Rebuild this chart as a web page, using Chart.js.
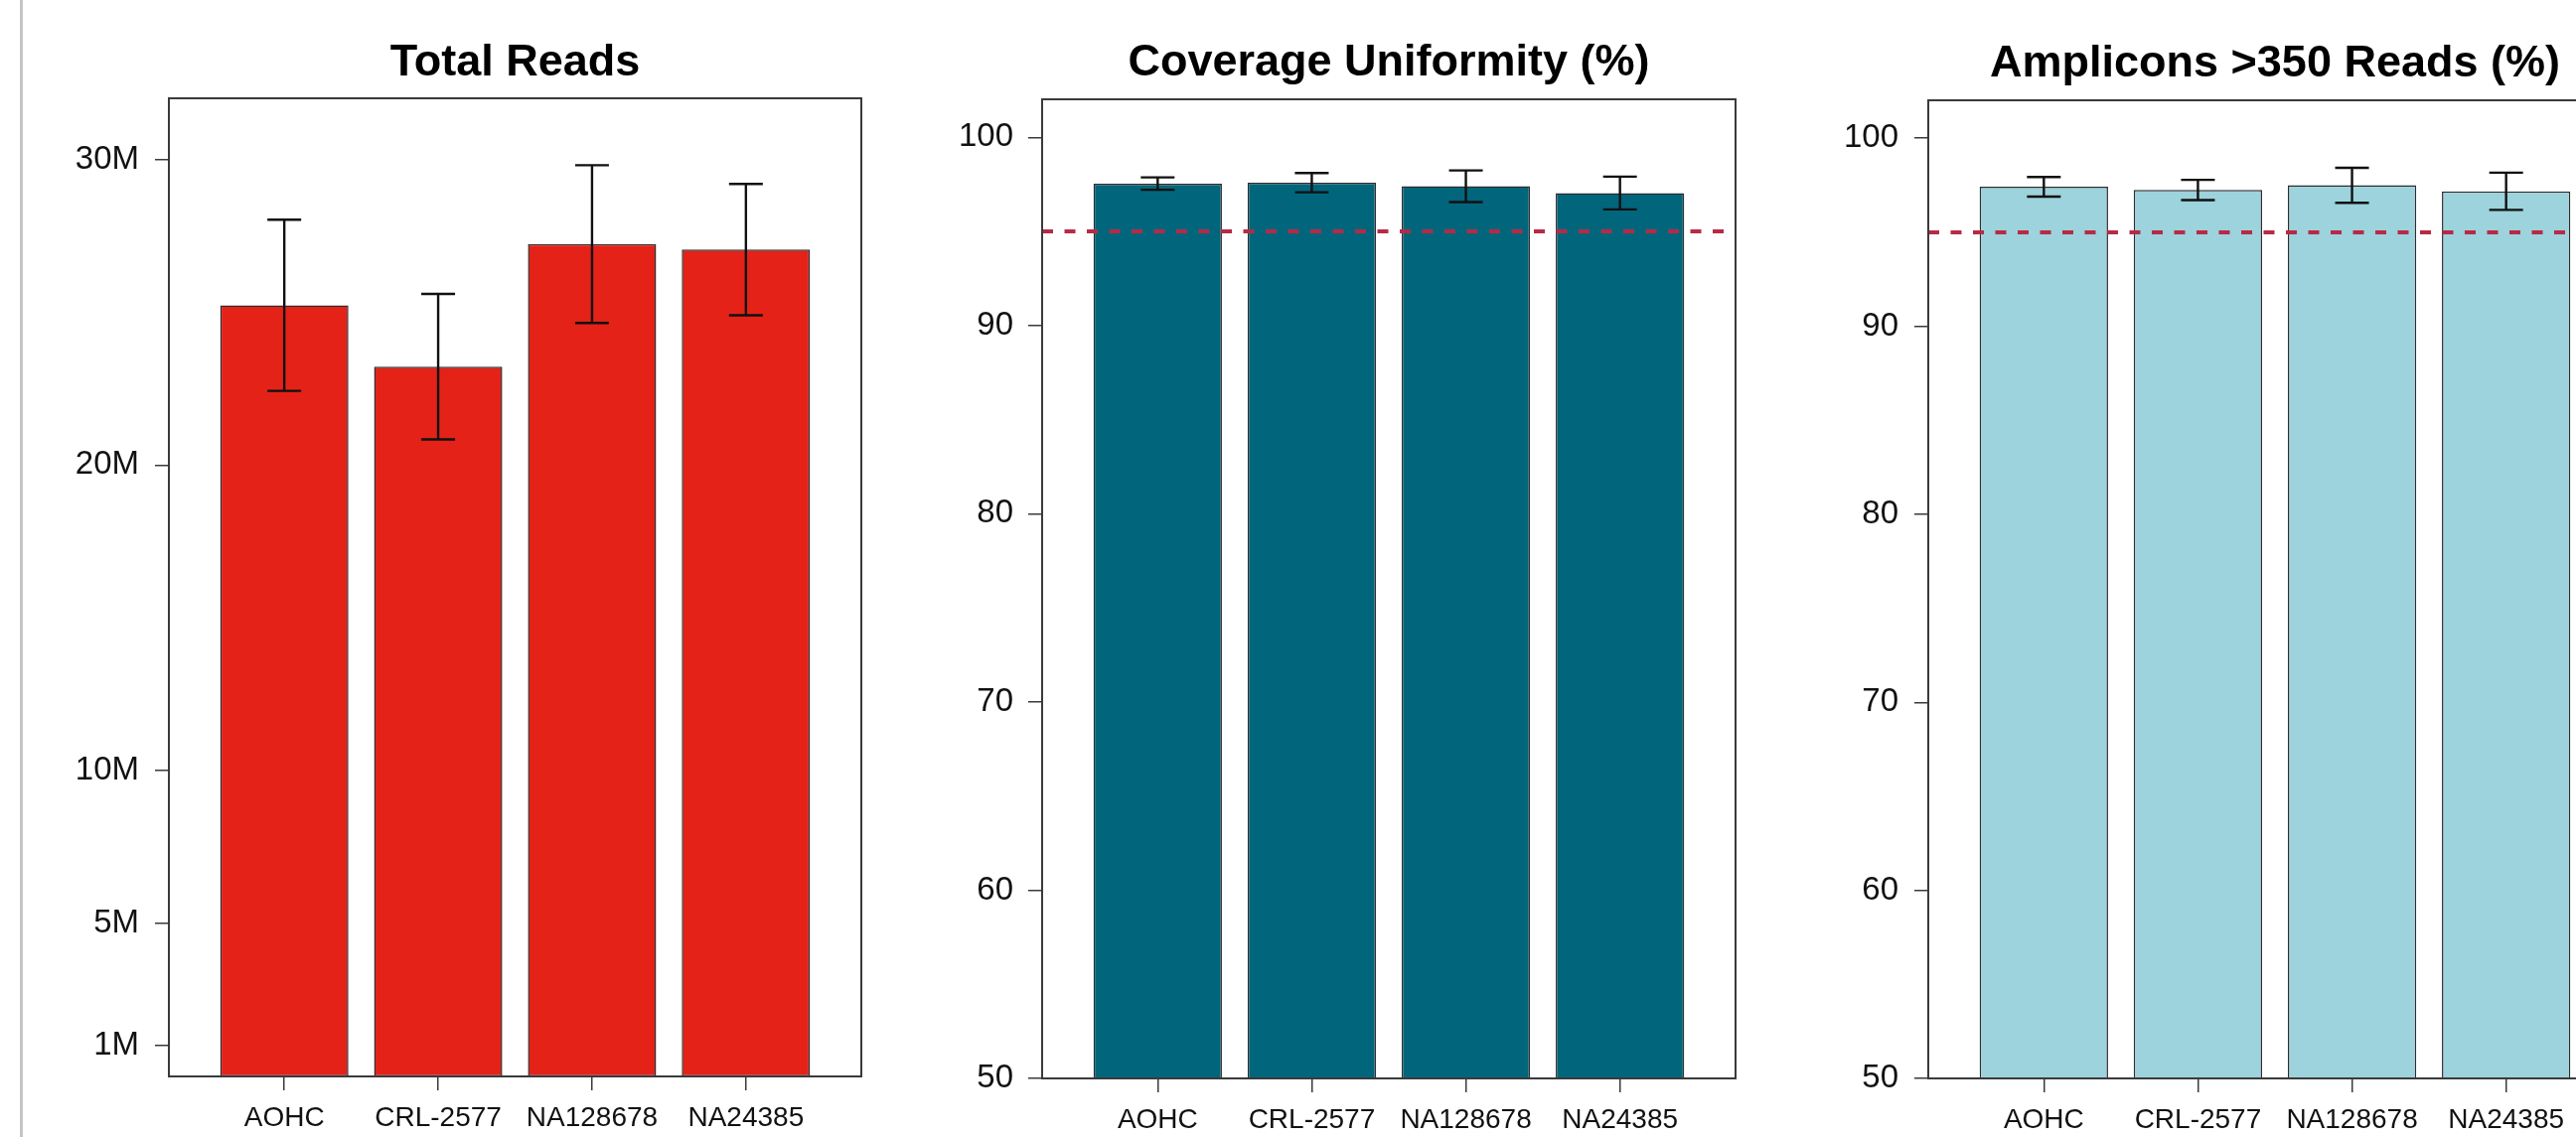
<!DOCTYPE html>
<html>
<head>
<meta charset="utf-8">
<script src="https://cdn.jsdelivr.net/npm/chart.js@4.4.1/dist/chart.umd.min.js"></script>
<style>
  html, body { margin: 0; padding: 0; background: #fff; }
  body { width: 2593px; height: 1145px; overflow: hidden; position: relative; }
  canvas { position: absolute; top: 0; }
  #edge { position: absolute; left: 20px; top: 0; width: 3px; height: 1145px; background: #c6c6c6; }
</style>
</head>
<body>
<div id="edge"></div>
<canvas id="reads" width="900" height="1145" style="left:0px"></canvas>
<canvas id="uniformity" width="870" height="1145" style="left:900px"></canvas>
<canvas id="amplicons" width="930" height="1145" style="left:1770px"></canvas>
<script>
// Sample panel: mean and standard deviation per sample
const samples = ['AOHC', 'CRL-2577', 'NA128678', 'NA24385'];

// Total reads, in millions
const readsMean = [25.23, 23.22, 27.23, 27.05];
const readsSd   = [2.80, 2.38, 2.58, 2.15];

// Coverage uniformity, %
const uniformityMean = [97.54, 97.59, 97.40, 97.04];
const uniformitySd   = [0.33, 0.51, 0.84, 0.87];

// Amplicons with more than 350 reads, %
const ampliconMean = [97.42, 97.25, 97.50, 97.18];
const ampliconSd   = [0.52, 0.54, 0.93, 0.99];

// Axis ticks
const readsTicks = [1, 5, 10, 20, 30];
const percentTicks = [50, 60, 70, 80, 90, 100];
const qcThreshold = 95;

const FONT = "'Liberation Sans', Arial, Helvetica, sans-serif";
const AXIS = '#3a3a3a';

// barplot-style geometry: unit-width bars separated by 0.2
const BAR_W = 1, BAR_GAP = 0.2, X_MIN = -0.2;
const barCenter = i => BAR_GAP + BAR_W / 2 + i * (BAR_W + BAR_GAP);
const X_MAX = BAR_GAP + samples.length * (BAR_W + BAR_GAP) + 0.2;

// Error bars, dashed threshold line, full box and panel title
const panelDecor = {
  id: 'panelDecor',
  afterDatasetsDraw(chart, args, opts) {
    const { ctx, chartArea: a, scales: { y } } = chart;
    ctx.save();
    const meta = chart.getDatasetMeta(0);
    ctx.strokeStyle = '#111';
    ctx.lineWidth = 2.4;
    meta.data.forEach((bar, i) => {
      const m = opts.means[i], s = opts.sds[i];
      const yt = y.getPixelForValue(m + s), yb = y.getPixelForValue(m - s);
      const cx = bar.x, hw = 17;
      ctx.beginPath();
      ctx.moveTo(cx, yt); ctx.lineTo(cx, yb);
      ctx.moveTo(cx - hw, yt); ctx.lineTo(cx + hw, yt);
      ctx.moveTo(cx - hw, yb); ctx.lineTo(cx + hw, yb);
      ctx.stroke();
    });
    if (opts.threshold != null) {
      const ty = y.getPixelForValue(opts.threshold);
      ctx.strokeStyle = '#b72a46';
      ctx.lineWidth = 4;
      ctx.setLineDash([11, 11.5]);
      ctx.beginPath();
      ctx.moveTo(a.left, ty); ctx.lineTo(a.right, ty);
      ctx.stroke();
      ctx.setLineDash([]);
    }
    ctx.strokeStyle = AXIS;
    ctx.lineWidth = 2;
    ctx.strokeRect(a.left, a.top, a.right - a.left, a.bottom - a.top);
    ctx.fillStyle = '#000';
    ctx.font = 'bold 45px ' + FONT;
    ctx.textAlign = 'center';
    ctx.textBaseline = 'alphabetic';
    ctx.fillText(opts.title, (a.left + a.right) / 2, opts.titleBaseline);
    ctx.restore();
  }
};

function panel(id, p) {
  const data = p.means.map((v, i) => ({ x: barCenter(i), y: v }));
  return new Chart(document.getElementById(id), {
    type: 'bar',
    data: {
      datasets: [{
        data,
        backgroundColor: p.color,
        borderColor: '#2e2e2e',
        borderWidth: 1.5,
        borderSkipped: false,
        categoryPercentage: 1,
        barPercentage: BAR_W / (BAR_W + BAR_GAP)
      }]
    },
    options: {
      responsive: false,
      animation: false,
      events: [],
      layout: { padding: { top: p.top, left: 0, right: p.right, bottom: 0 } },
      plugins: {
        legend: { display: false },
        tooltip: { enabled: false },
        title: { display: false },
        panelDecor: {
          means: p.means, sds: p.sds, threshold: p.threshold,
          title: p.title, titleBaseline: p.titleBaseline
        }
      },
      scales: {
        x: {
          type: 'linear',
          offset: false,
          min: X_MIN,
          max: X_MAX,
          afterBuildTicks: s => { s.ticks = samples.map((_, i) => ({ value: barCenter(i) })); },
          afterFit: s => { s.height = p.xAxisHeight; },
          ticks: {
            autoSkip: false, maxRotation: 0, minRotation: 0, padding: 11,
            color: '#111', font: { family: FONT, size: 28 },
            callback: (v, i) => samples[i]
          },
          grid: { offset: false, drawOnChartArea: false, drawTicks: true, tickLength: 14, color: AXIS, lineWidth: 1.5 },
          border: { display: true, color: AXIS, width: 2 }
        },
        y: {
          type: 'linear',
          min: p.yMin,
          max: p.yMax,
          afterBuildTicks: s => { s.ticks = p.yTicks.map(v => ({ value: v })); },
          afterFit: s => { s.width = p.yAxisWidth; },
          ticks: {
            padding: p.labelPad,
            color: '#111', font: { family: FONT, size: 33 },
            callback: p.fmt
          },
          grid: { drawOnChartArea: false, drawTicks: true, tickLength: 14, color: AXIS, lineWidth: 1.5 },
          border: { display: true, color: AXIS, width: 2 }
        }
      }
    },
    plugins: [panelDecor]
  });
}

panel('reads', {
  title: 'Total Reads', titleBaseline: 76,
  means: readsMean, sds: readsSd, color: '#e42218',
  yMin: 0, yMax: 32.0, yTicks: readsTicks, fmt: v => v + 'M',
  top: 99, right: 33, yAxisWidth: 170, xAxisHeight: 61, labelPad: 16
});

panel('uniformity', {
  title: 'Coverage Uniformity (%)', titleBaseline: 76,
  means: uniformityMean, sds: uniformitySd, color: '#01667c', threshold: qcThreshold,
  yMin: 50, yMax: 102.02, yTicks: percentTicks, fmt: v => String(v),
  top: 100, right: 23, yAxisWidth: 149, xAxisHeight: 59, labelPad: 15
});

panel('amplicons', {
  title: 'Amplicons >350 Reads (%)', titleBaseline: 77,
  means: ampliconMean, sds: ampliconSd, color: '#9cd3dc', threshold: qcThreshold,
  yMin: 50, yMax: 102.02, yTicks: percentTicks, fmt: v => String(v),
  top: 101, right: 61, yAxisWidth: 171, xAxisHeight: 59, labelPad: 16
});
</script>
</body>
</html>
